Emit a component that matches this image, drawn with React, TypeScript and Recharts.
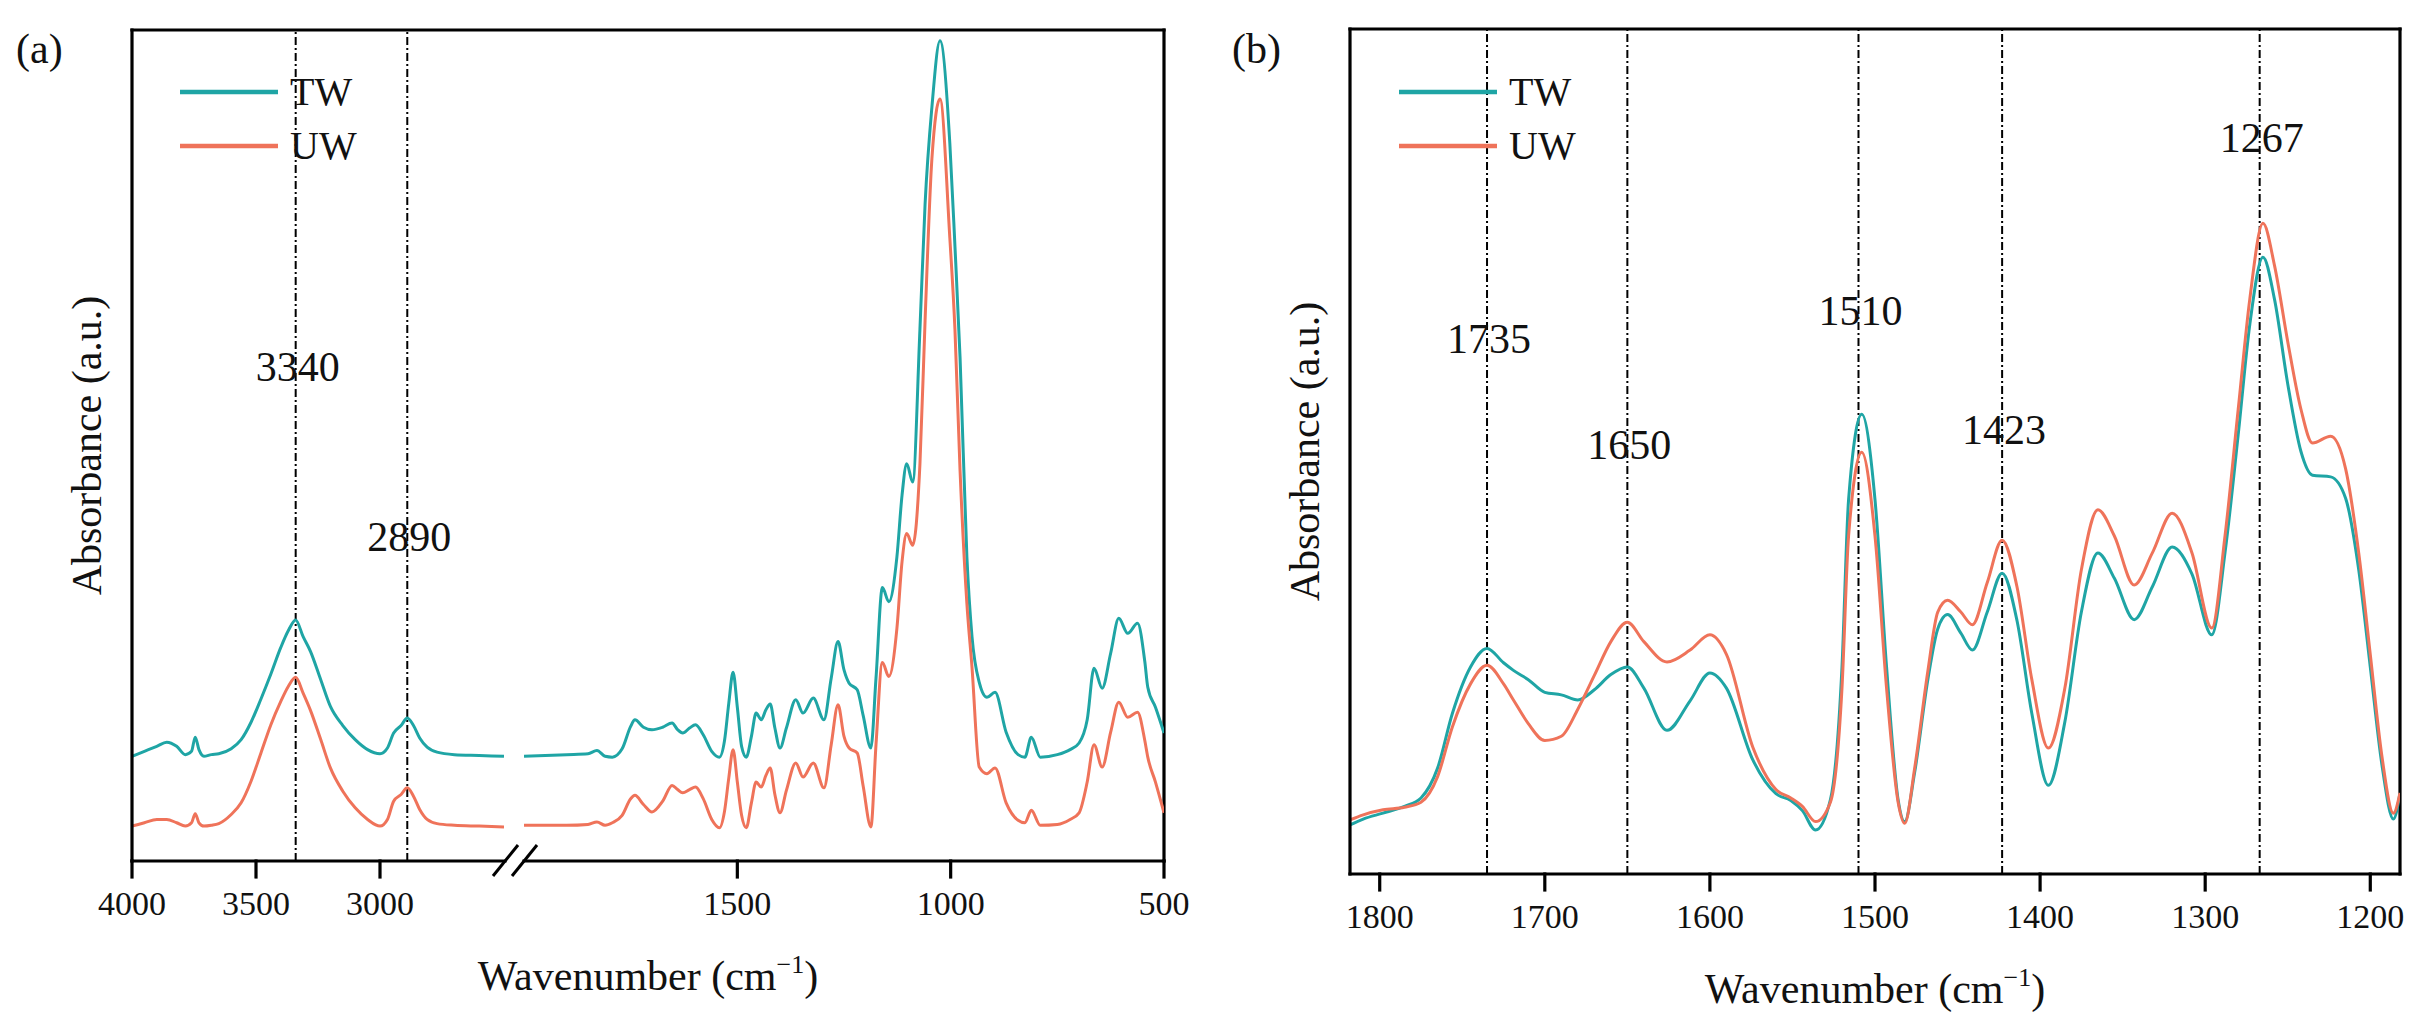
import React from "react";
import { LineChart, Line, XAxis, YAxis, ReferenceLine, ReferenceDot, Legend } from "recharts";

const FONT = "'Liberation Serif', 'Times New Roman', Times, 'DejaVu Serif', serif";
const TW_COLOR = "#1FA5A5";
const UW_COLOR = "#EF735A";
const INK = "#111";

// ---- panel (a): full spectrum, axis broken between 2500 and 2000 cm-1 ----
const wnA1 = [
  4000, 3950, 3900, 3860, 3820, 3785, 3760, 3745, 3730, 3710,
  3680, 3650, 3600, 3560, 3520, 3480, 3440, 3400, 3370, 3340,
  3310, 3280, 3240, 3200, 3150, 3100, 3050, 3000, 2970, 2945,
  2915, 2890, 2865, 2840, 2810, 2770, 2700, 2600, 2500,
];
const twA1 = [
  12.6, 13.2, 13.8, 14.3, 13.8, 12.8, 13.2, 14.9, 13.4, 12.6,
  12.8, 12.9, 13.5, 14.6, 16.7, 19.5, 22.5, 25.7, 27.7, 29.0,
  27.0, 25.2, 21.9, 18.6, 16.3, 14.6, 13.4, 12.9, 13.6, 15.4,
  16.3, 17.2, 16.3, 14.8, 13.7, 13.1, 12.8, 12.7, 12.6,
];
const uwA1 = [
  4.2, 4.6, 5.0, 5.0, 4.6, 4.2, 4.6, 5.7, 4.6, 4.2,
  4.3, 4.5, 5.6, 7.0, 9.6, 13.0, 16.4, 19.2, 21.0, 22.1,
  20.2, 18.1, 14.7, 11.2, 8.4, 6.4, 5.0, 4.2, 5.0, 7.2,
  8.0, 8.8, 7.8, 6.2, 5.0, 4.5, 4.3, 4.2, 4.1,
];

const wnA2 = [
  2000, 1900, 1850, 1829, 1810, 1793, 1770, 1750, 1740, 1720,
  1700, 1675, 1653, 1640, 1628, 1612, 1598, 1580, 1560, 1542,
  1530, 1520, 1510, 1500, 1490, 1479, 1467, 1456, 1444, 1433,
  1423, 1412, 1400, 1385, 1363, 1346, 1322, 1297, 1280, 1264,
  1250, 1238, 1219, 1205, 1187, 1175, 1160, 1145, 1126, 1114,
  1103, 1089, 1072, 1060, 1044, 1025, 1002, 990, 978, 962,
  950, 933, 915, 896, 870, 842, 826, 811, 790, 750,
  720, 699, 680, 664, 645, 625, 606, 585, 562, 545,
  538, 520, 500,
];
const twA2 = [
  12.6, 12.8, 12.9, 13.3, 12.6, 12.5, 13.5, 16.2, 17.0, 16.1,
  15.8, 16.1, 16.6, 15.8, 15.4, 16.0, 16.4, 15.2, 13.2, 12.5,
  14.5, 19.0, 22.7, 18.5, 13.8, 12.5, 15.0, 17.8, 17.0, 18.2,
  18.9, 16.0, 13.6, 16.0, 19.4, 17.8, 19.6, 17.0, 22.0, 26.4,
  23.0, 21.4, 20.6, 17.5, 13.6, 22.0, 32.9, 31.2, 36.6, 44.0,
  47.8, 45.6, 64.0, 79.0, 90.7, 98.7, 86.4, 74.0, 60.6, 36.6,
  27.0, 21.5, 19.7, 20.3, 15.5, 12.8, 12.5, 14.9, 12.5, 12.8,
  13.4, 14.2, 17.0, 23.2, 20.8, 25.0, 29.2, 27.4, 28.6, 24.0,
  20.9, 18.5, 15.4,
];
const uwA2 = [
  4.3, 4.3, 4.4, 4.7, 4.3, 4.6, 5.5, 7.5, 7.9, 6.8,
  5.9, 7.2, 9.1, 8.6, 8.2, 8.6, 8.9, 7.5, 5.0, 4.0,
  6.0, 10.0, 13.4, 9.5, 5.5, 4.0, 7.0, 9.5, 8.9, 10.3,
  11.2, 8.0, 5.8, 8.5, 11.8, 10.1, 11.8, 8.8, 14.0, 18.8,
  15.0, 13.6, 13.0, 9.0, 4.1, 14.0, 23.9, 22.2, 28.0, 36.0,
  39.4, 38.0, 47.8, 65.0, 84.5, 91.7, 75.0, 64.0, 47.0, 31.0,
  23.3, 11.3, 10.5, 11.2, 7.0, 4.9, 4.6, 6.1, 4.3, 4.4,
  5.0, 5.8, 9.5, 14.0, 11.3, 15.5, 19.1, 17.3, 17.9, 14.5,
  12.5, 9.5, 5.8,
];
const ticksA = [4000, 3500, 3000, 1500, 1000, 500];
const peaksA = [3340, 2890];

// ---- panel (b): fingerprint region ----
const wnB = [
  1818, 1810, 1798, 1785, 1775, 1765, 1756, 1745, 1735, 1725,
  1719, 1710, 1700, 1690, 1680, 1670, 1660, 1650, 1640, 1626,
  1612, 1600, 1590, 1574, 1560, 1551, 1544, 1536, 1527, 1520,
  1516, 1508, 1500, 1493, 1486, 1482, 1476, 1468, 1462, 1456,
  1448, 1441, 1432, 1423, 1414, 1405, 1395, 1385, 1375, 1365,
  1355, 1343, 1332, 1320, 1308, 1296, 1288, 1280, 1273, 1265,
  1258, 1250, 1242, 1235, 1224, 1215, 1207, 1200, 1193, 1186,
  1182,
];
const twB = [
  5.8, 6.5, 7.2, 8.0, 9.0, 12.5, 19.0, 24.5, 26.7, 25.0,
  24.1, 23.0, 21.5, 21.2, 20.6, 21.8, 23.6, 24.5, 22.0, 17.0,
  20.5, 23.8, 22.0, 13.5, 9.5, 8.7, 7.5, 5.2, 8.8, 24.5,
  44.3, 54.4, 44.3, 24.5, 8.8, 6.2, 12.0, 23.0, 29.0, 30.7,
  28.5, 26.5, 31.0, 35.6, 30.0, 19.0, 10.5, 18.0, 31.0, 38.0,
  35.0, 30.1, 34.0, 38.7, 35.5, 28.3, 38.0, 52.0, 65.0, 73.0,
  68.0, 58.0, 50.0, 47.2, 47.0, 44.5, 36.0, 24.5, 13.0, 6.5,
  9.6,
];
const uwB = [
  6.4, 7.0, 7.6, 7.9, 8.5, 11.5, 17.4, 22.5, 24.7, 22.5,
  20.6, 17.8, 15.8, 16.3, 19.5, 23.5, 27.5, 29.8, 27.5, 25.1,
  26.5, 28.3, 26.0, 15.0, 10.0, 9.0, 8.0, 6.2, 8.5, 22.0,
  40.0, 49.9, 40.0, 22.0, 8.5, 6.0, 12.5, 24.0, 31.0, 32.4,
  31.0, 29.5, 34.5, 39.5, 34.0, 23.0, 14.9, 22.0, 36.0, 43.1,
  40.0, 34.2, 38.0, 42.7, 38.0, 29.1, 40.0, 55.0, 68.0, 77.0,
  72.0, 63.0, 55.0, 51.0, 51.8, 48.0, 38.0, 26.0, 14.0, 7.2,
  9.6,
];
const ticksB = [1800, 1700, 1600, 1500, 1400, 1300, 1200];
const peaksB = [1735, 1650, 1510, 1423, 1267];

// label heights below the top frame, px
const peakLabelOffsetA: Record<number, number> = { 3340: 337, 2890: 507 };
const peakLabelOffsetB: Record<number, number> = { 1735: 310, 1650: 416, 1510: 282, 1423: 401, 1267: 109 };

// broken x axis for (a): 4000-2500 on the left, 2000-500 (stretched) on the right
const SEG1_END = 372 / 1032;
const SEG2_START = 392 / 1032;
const GAP_L = 373 / 1032;
const GAP_R = 392 / 1032;
const brokenX = (w: number) =>
  w >= 2500 ? ((4000 - w) / 1500) * SEG1_END : SEG2_START + ((2000 - w) / 1500) * (1 - SEG2_START);

const dataA = [
  ...wnA1.map((w, i) => ({ x: brokenX(w), tw: twA1[i], uw: uwA1[i] })),
  { x: (SEG1_END + SEG2_START) / 2, tw: null, uw: null },
  ...wnA2.map((w, i) => ({ x: brokenX(w), tw: twA2[i], uw: uwA2[i] })),
];
const dataB = wnB.map((w, i) => ({ x: w, tw: twB[i], uw: uwB[i] }));

const frame = { stroke: "#000", strokeWidth: 3.2, strokeLinecap: "square" as const };
const dash = { stroke: "#000", strokeWidth: 2, strokeDasharray: "8 3 2 3" };
const tickStyle = { fill: INK, fontSize: 34, fontFamily: FONT };

function XTitle(props: any) {
  const vb = props.viewBox;
  return (
    <text x={vb.x + vb.width / 2} y={vb.y + 129} textAnchor="middle" fontFamily={FONT} fontSize={42} fill={INK}>
      Wavenumber (cm
      <tspan dy={-17} fontSize={26}>−1</tspan>
      <tspan dy={17}>)</tspan>
    </text>
  );
}

function YTitle(props: any) {
  const vb = props.viewBox;
  const cx = vb.x + vb.width - 45;
  const cy = vb.y + vb.height / 2;
  return (
    <text
      x={cx}
      y={cy}
      transform={`rotate(-90 ${cx} ${cy})`}
      textAnchor="middle"
      dominantBaseline="central"
      fontFamily={FONT}
      fontSize={42}
      fill={INK}
    >
      Absorbance (a.u.)
    </text>
  );
}

const peakLabel = (text: string, dy: number) => (props: any) => {
  const vb = props.viewBox;
  return (
    <text x={vb.x + 2} y={vb.y + dy} textAnchor="middle" dominantBaseline="central" fontFamily={FONT} fontSize={42} fill={INK}>
      {text}
    </text>
  );
};

function BreakMark(props: any) {
  const { cx, cy } = props;
  return (
    <g stroke="#000" strokeWidth={3}>
      <line x1={cx - 21.5} y1={cy + 15} x2={cx + 3.5} y2={cy - 16} />
      <line x1={cx - 2.5} y1={cy + 15} x2={cx + 22.5} y2={cy - 16} />
    </g>
  );
}

function SeriesLegend(props: any) {
  const items = props.payload || [];
  return (
    <div style={{ fontFamily: FONT, fontSize: 40, color: INK }}>
      {items.map((p: any) => (
        <div key={p.value} style={{ display: "flex", alignItems: "center", height: 54 }}>
          <svg width={98} height={8}>
            <line x1={0} y1={4} x2={98} y2={4} stroke={p.color} strokeWidth={4.5} />
          </svg>
          <span style={{ marginLeft: 12, lineHeight: "54px" }}>{p.value}</span>
        </div>
      ))}
    </div>
  );
}

function PanelTag({ text, left }: { text: string; left: number }) {
  return (
    <div style={{ position: "absolute", left, top: 28, fontFamily: FONT, fontSize: 42, lineHeight: "42px", color: INK }}>
      {text}
    </div>
  );
}

export default function App() {
  const nearestTickA = (v: number) => {
    const t = ticksA.find((k) => Math.abs(brokenX(k) - v) < 1e-6);
    return t === undefined ? "" : String(t);
  };

  return (
    <div style={{ position: "absolute", left: 0, top: 0, width: 2429, height: 1021, background: "#fff" }}>
      <PanelTag text="(a)" left={16} />
      <PanelTag text="(b)" left={1232} />

      <div style={{ position: "absolute", left: 0, top: 0 }}>
        <LineChart width={1200} height={1021} data={dataA} margin={{ top: 30, right: 36, bottom: 0, left: 0 }}>
          <XAxis
            type="number"
            dataKey="x"
            domain={[0, 1]}
            allowDataOverflow
            ticks={ticksA.map(brokenX)}
            interval={0}
            tickFormatter={nearestTickA}
            height={160}
            axisLine={false}
            tickLine={frame}
            tickSize={16}
            tickMargin={14}
            tick={tickStyle}
            label={XTitle}
          />
          <YAxis domain={[0, 100]} width={132} tick={false} tickLine={false} axisLine={frame} label={YTitle} />
          {/* frame: top, right, and the bottom axis with its break */}
          <ReferenceLine y={100} ifOverflow="visible" {...frame} />
          <ReferenceLine x={1} ifOverflow="visible" {...frame} />
          <ReferenceLine segment={[{ x: 0, y: 0 }, { x: GAP_L, y: 0 }]} ifOverflow="visible" {...frame} />
          <ReferenceLine segment={[{ x: GAP_R, y: 0 }, { x: 1, y: 0 }]} ifOverflow="visible" {...frame} />
          <ReferenceDot x={(GAP_L + GAP_R) / 2} y={0} r={0} ifOverflow="visible" shape={BreakMark} />
          {peaksA.map((p) => (
            <ReferenceLine key={p} x={brokenX(p)} {...dash} label={peakLabel(String(p), peakLabelOffsetA[p])} />
          ))}
          <Legend
            layout="horizontal"
            align="center"
            verticalAlign="middle"
            content={SeriesLegend}
            wrapperStyle={{ left: 180, top: 65, width: 200, height: "auto" }}
          />
          <Line name="TW" dataKey="tw" type="monotone" stroke={TW_COLOR} strokeWidth={3} dot={false} isAnimationActive={false} />
          <Line name="UW" dataKey="uw" type="monotone" stroke={UW_COLOR} strokeWidth={3} dot={false} isAnimationActive={false} />
        </LineChart>
      </div>

      <div style={{ position: "absolute", left: 1220, top: 0 }}>
        <LineChart width={1209} height={1021} data={dataB} margin={{ top: 29, right: 29, bottom: 0, left: 0 }}>
          <XAxis
            type="number"
            dataKey="x"
            domain={[1182, 1818]}
            reversed
            allowDataOverflow
            ticks={ticksB}
            interval={0}
            height={147}
            axisLine={frame}
            tickLine={frame}
            tickSize={16}
            tickMargin={14}
            tick={tickStyle}
            label={XTitle}
          />
          <YAxis domain={[0, 100]} width={130} tick={false} tickLine={false} axisLine={frame} label={YTitle} />
          <ReferenceLine y={100} ifOverflow="visible" {...frame} />
          <ReferenceLine x={1182} ifOverflow="visible" {...frame} />
          {peaksB.map((p) => (
            <ReferenceLine key={p} x={p} {...dash} label={peakLabel(String(p), peakLabelOffsetB[p])} />
          ))}
          <Legend
            layout="horizontal"
            align="center"
            verticalAlign="middle"
            content={SeriesLegend}
            wrapperStyle={{ left: 179, top: 65, width: 200, height: "auto" }}
          />
          <Line name="TW" dataKey="tw" type="monotone" stroke={TW_COLOR} strokeWidth={3} dot={false} isAnimationActive={false} />
          <Line name="UW" dataKey="uw" type="monotone" stroke={UW_COLOR} strokeWidth={3} dot={false} isAnimationActive={false} />
        </LineChart>
      </div>
    </div>
  );
}
